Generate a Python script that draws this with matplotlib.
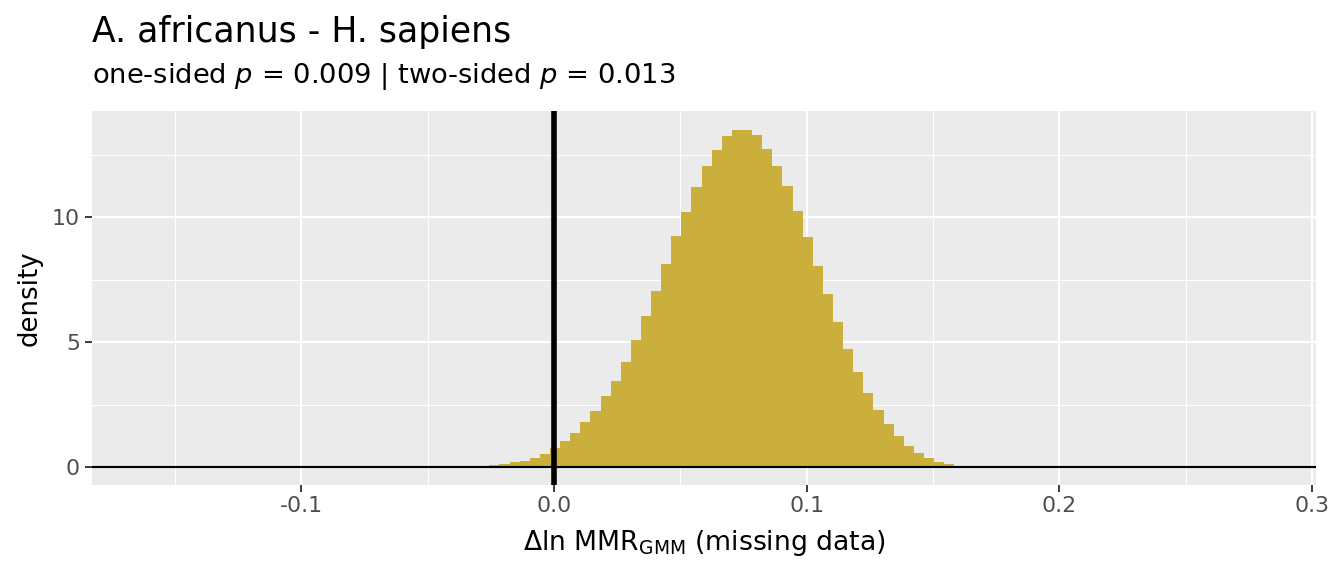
import numpy as np
import matplotlib
matplotlib.use("Agg")
import matplotlib.pyplot as plt
from matplotlib.ticker import MultipleLocator

# ---- data ----
bin_start = -0.0296
bin_width = 0.004
densities = [0.05, 0.09, 0.13, 0.21, 0.25, 0.37, 0.53, 0.77, 1.05, 1.37,
             1.81, 2.25, 2.85, 3.45, 4.21, 5.09, 6.04, 7.04, 8.12, 9.23,
             10.19, 11.19, 12.06, 12.70, 13.26, 13.50, 13.50, 13.30, 12.74, 12.06,
             11.23, 10.23, 9.19, 8.03, 6.91, 5.80, 4.72, 3.80, 2.96, 2.28,
             1.72, 1.25, 0.85, 0.57, 0.37, 0.21, 0.13, 0.05]
x_ticks = [-0.1, 0.0, 0.1, 0.2, 0.3]
x_tick_labels = ["-0.1", "0.0", "0.1", "0.2", "0.3"]
y_ticks = [0, 5, 10]
y_tick_labels = ["0", "5", "10"]
title = "A. africanus - H. sapiens"
subtitle = r"one-sided $p$ = 0.009 | two-sided $p$ = 0.013"
xlabel = r"$\Delta$ln MMR$_{\mathrm{GMM}}$ (missing data)"
ylabel = "density"

edges = bin_start + bin_width * np.arange(len(densities) + 1)

fig = plt.figure(figsize=(14, 6), dpi=96)
W, H = 1344, 576
left, right, top, bottom = 92, 1316, 111, 485
ax = fig.add_axes([left / W, 1 - bottom / H, (right - left) / W, (bottom - top) / H])

ax.set_facecolor("#EBEBEB")
ax.stairs(densities, edges, fill=True, color="#CBAF3C", zorder=2)
ax.axhline(0, color="black", lw=1.6, zorder=3)
ax.axvline(0, color="black", lw=4.2, zorder=4)

ax.set_xlim(-0.1828, 0.3015)
ax.set_ylim(-0.72, 14.24)

ax.set_xticks(x_ticks)
ax.set_xticklabels(x_tick_labels)
ax.set_yticks(y_ticks)
ax.set_yticklabels(y_tick_labels)
ax.xaxis.set_minor_locator(MultipleLocator(0.05))
ax.yaxis.set_minor_locator(MultipleLocator(2.5))
ax.grid(which="major", color="white", lw=1.6, zorder=0)
ax.grid(which="minor", color="white", lw=0.8, zorder=0)
ax.set_axisbelow(True)
for s in ax.spines.values():
    s.set_visible(False)
ax.tick_params(which="major", length=5, width=1.4, color="#333333",
               labelsize=16.5, labelcolor="#4D4D4D")
ax.tick_params(axis="x", which="major", pad=3)
ax.tick_params(axis="y", which="major", pad=4)
ax.tick_params(which="minor", length=0)

ax.set_xlabel(xlabel, fontsize=20, color="black", va="baseline", ha="center")
ax.xaxis.set_label_coords(0.5, (bottom - 550) / (bottom - top))
ax.set_ylabel(ylabel, fontsize=19.5, color="black", va="center", ha="center")
ax.yaxis.set_label_coords((30 - left) / (right - left), 0.5)

fig.text(left / W, 1 - 42 / H, title, fontsize=26, va="baseline", ha="left")
fig.text(left / W, 1 - 83 / H, subtitle, fontsize=20.5, va="baseline", ha="left")

fig.savefig("out.png", dpi=96)
